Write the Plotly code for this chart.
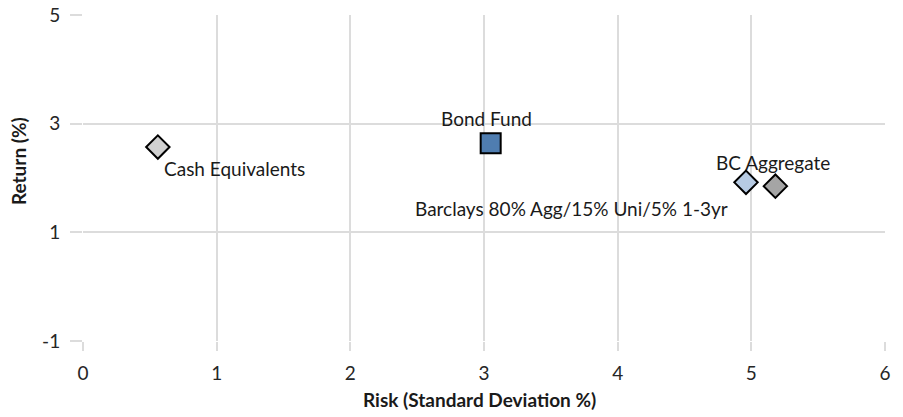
import plotly.graph_objects as go

names = ["Cash Equivalents", "Bond Fund", "Barclays 80% Agg/15% Uni/5% 1-3yr", "BC Aggregate"]
risk = [0.56, 3.05, 4.96, 5.18]
ret = [2.57, 2.64, 1.92, 1.85]
symbols = ["diamond", "square", "diamond", "diamond"]
colors = ["#d0d0d0", "#4f7db0", "#b7cbe3", "#a5a5a5"]
sizes = [18, 20, 18, 18]

x_title = "Risk (Standard Deviation %)"
y_title = "Return (%)"
x_tickvals = [0, 1, 2, 3, 4, 5, 6]
x_ticktext = ["0", "1", "2", "3", "4", "5", "6"]
y_tickvals = [-1, 1, 3, 5]
y_ticktext = ["-1", "1", "3", "5"]

# label placement (pixels relative to marker)
lab_xanchor = ["left", "center", "right", "center"]
lab_xshift = [4, -4, -16, -2]
lab_yshift = [-21, 25, -26, 24]

FONT = "Lato, Open Sans, sans-serif"

fig = go.Figure()
for i in range(len(names)):
    fig.add_trace(go.Scatter(
        x=[risk[i]], y=[ret[i]], mode="markers", name=names[i],
        marker=dict(symbol=symbols[i], size=sizes[i], color=colors[i],
                    line=dict(color="#000000", width=2)),
        showlegend=False,
    ))
    fig.add_annotation(x=risk[i], y=ret[i], text=names[i], showarrow=False,
                       xanchor=lab_xanchor[i], yanchor="middle",
                       xshift=lab_xshift[i], yshift=lab_yshift[i],
                       font=dict(family=FONT, size=19, color="#1a1a1a"))

fig.add_annotation(xref="paper", yref="paper", x=-0.081, y=0.552, text="<b>" + y_title + "</b>",
                   textangle=-90, showarrow=False, xanchor="center", yanchor="middle",
                   font=dict(family=FONT, size=19, color="#1a1a1a"))
fig.add_annotation(xref="paper", yref="paper", x=0.495, y=-0.178, text="<b>" + x_title + "</b>",
                   showarrow=False, xanchor="center", yanchor="middle",
                   font=dict(family=FONT, size=19, color="#1a1a1a"))

fig.update_layout(
    width=903, height=417,
    margin=dict(l=83, r=18, t=15, b=76, autoexpand=False),
    paper_bgcolor="white", plot_bgcolor="white",
    font=dict(family=FONT, size=19, color="#262626"),
    xaxis=dict(range=[0, 6], tickmode="array", tickvals=x_tickvals, ticktext=x_ticktext,
               showgrid=True, gridcolor="#dcdcdc",
               gridwidth=1.5, zeroline=False, ticks="outside", ticklen=9,
               tickcolor="#dcdcdc", tickwidth=1.5, showline=False, automargin=False,
               ticklabelstandoff=6),
    yaxis=dict(range=[-1, 5], tickmode="array", tickvals=y_tickvals, ticktext=y_ticktext,
               showgrid=True, gridcolor="#dcdcdc",
               gridwidth=1.5, zeroline=False, ticks="outside", ticklen=12,
               tickcolor="#dcdcdc", tickwidth=1.5, showline=False, automargin=False,
               ticklabelstandoff=6),
)

fig.write_html("out.html", config={"displayModeBar": False},
               post_script="document.body.style.margin='0';document.body.style.padding='0';")
